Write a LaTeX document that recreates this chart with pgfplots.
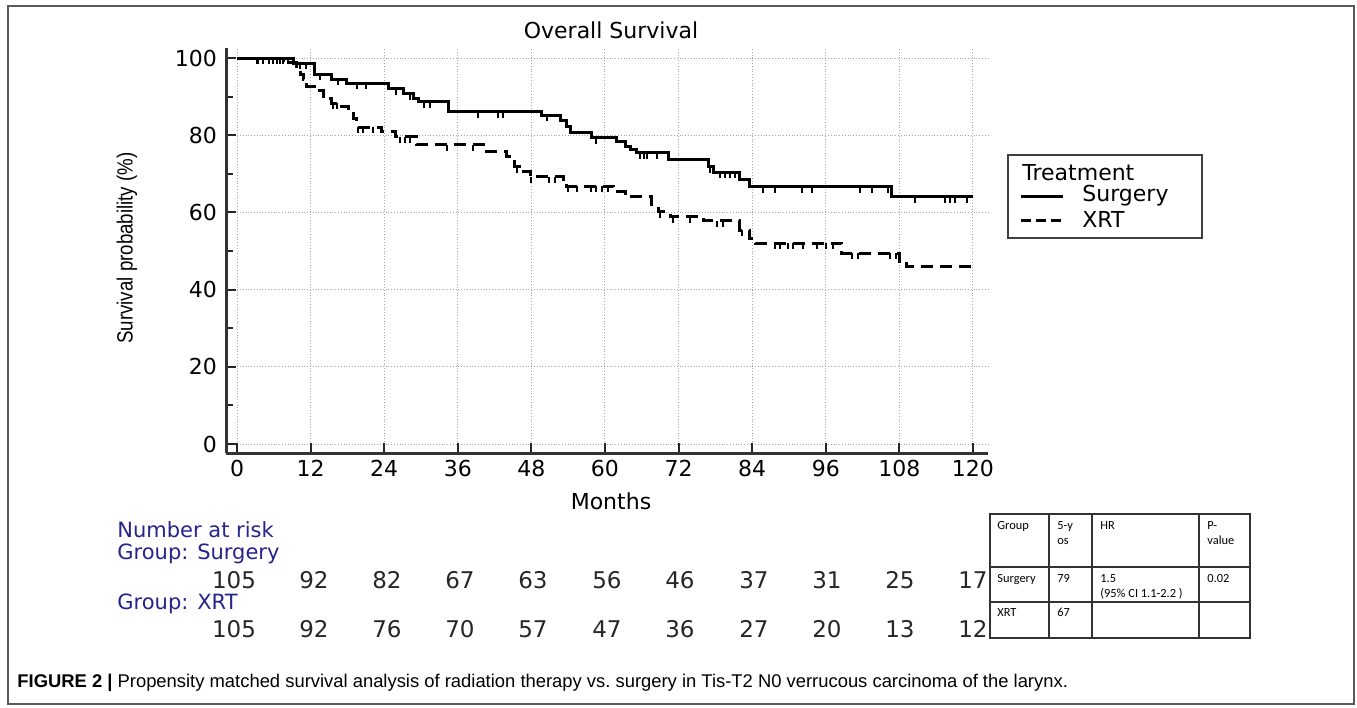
\documentclass[border=0pt]{standalone}
\usepackage{pgfplots}
\usepackage{pgfplotstable}
\pgfplotsset{compat=1.18}
\usepackage{fontspec}
\setmainfont{DejaVu Sans}
\newfontfamily\arialfont{Liberation Sans}
\newfontfamily\calfont{Carlito}
\definecolor{riskblue}{RGB}{38,36,140}

% censor tick hanging below the curve
\pgfdeclareplotmark{cens}{%
  \pgfpathmoveto{\pgfqpoint{0pt}{0pt}}%
  \pgfpathlineto{\pgfqpoint{0pt}{-\pgfplotmarksize}}%
  \pgfusepathqstroke}

\pgfplotstableread{
t s
0 100
9.2 98.6
12.7 95.8
15.4 94.5
17.9 93.4
24.7 92.1
27.1 90.8
28.7 89.5
29.6 88.7
34.5 86.1
49.7 85.2
52.7 83.9
53.8 82.2
54.3 80.7
57.8 79.4
61.9 78.3
63.3 77.0
64.1 76.2
65.2 75.5
70.3 73.6
76.9 71.8
77.7 70.4
82.0 68.4
83.6 66.7
106.7 64.1
120 64.1
}\surg

\pgfplotstableread{
t s
0 100
7.5 98.8
9.7 96.9
10.3 95.6
10.8 94.5
11.4 92.6
12.7 91.5
14.1 89.5
15.4 88.3
17.1 87.4
18.2 86.1
19.0 84.4
19.5 82.0
23.6 80.9
25.8 79.6
29.3 77.5
40.7 75.7
44.0 74.4
45.3 71.8
46.1 70.5
47.8 69.2
53.2 68.0
53.8 66.8
61.4 65.4
63.3 64.1
67.6 61.5
68.7 60.2
70.6 58.9
76.1 57.8
82.0 55.4
83.6 53.3
84.5 52.0
98.6 49.4
108.1 47.2
109.2 45.9
120 45.9
}\xrt

\pgfplotstableread{
t s
3.3 100
4.3 100
5.8 100
6.5 100
7.5 100
8.3 100
10.2 98.6
11.2 98.6
13.5 95.8
16.5 94.5
19.5 93.4
21 93.4
26 92.1
28.2 90.8
30.5 88.7
31.5 88.7
39.3 86.1
42.6 86.1
43.4 86.1
50.5 85.2
58.6 79.4
65.7 75.5
66.3 75.5
66.8 75.5
68.4 75.5
77.1 71.8
78.8 70.4
79.6 70.4
80.4 70.4
81.2 70.4
85.8 66.7
87.7 66.7
92.1 66.7
93.8 66.7
101.6 66.7
103.5 66.7
106.2 66.7
110.6 64.1
115.4 64.1
116.3 64.1
117.1 64.1
119 64.1
}\surgcens

\pgfplotstableread{
t s
3.5 100
5.2 100
7 100
15.7 88.3
16.3 88.3
19.8 82.0
20.5 82.0
22.2 82.0
26.6 79.6
27.4 79.6
28.2 79.6
34.2 77.5
38.5 77.5
45.6 71.8
48.0 69.2
50.8 69.2
51.9 69.2
54.0 66.8
55.4 66.8
57.8 66.8
58.6 66.8
59.5 66.8
60.5 66.8
69.0 60.2
71.1 58.9
73.9 58.9
78.2 57.8
79.3 57.8
82.3 55.4
87.7 52.0
88.5 52.0
89.9 52.0
90.7 52.0
92.3 52.0
94.5 52.0
96.1 52.0
97.2 52.0
100.2 49.4
101.3 49.4
106.5 49.4
107.5 49.4
}\xrtcens

\begin{document}
\begin{tikzpicture}
\begin{scope}[x=0.5pt,y=-0.5pt]
  \path[use as bounding box] (0,0) rectangle (1357,708);
  \draw[black!65, line width=0.8pt] (8,6) rectangle (1354,704);
  % title and axis labels
  \node[font=\fontsize{11pt}{13pt}\selectfont] at (611,30) {Overall Survival};
  \node[font=\fontsize{11pt}{13pt}\selectfont] at (611,501) {Months};
  \node[rotate=90, font=\arialfont\fontsize{11pt}{13pt}\selectfont] at (127,248)
    {\scalebox{0.85}[1]{Survival probability (\%)}};
  % legend
  \draw[black!75, line width=1pt] (1008,155) rectangle (1202,238);
  \node[anchor=west, inner sep=0pt, font=\fontsize{11pt}{13pt}\selectfont] at (1022,173) {Treatment};
  \draw[line width=1.5pt] (1021,196) -- (1063,196);
  \node[anchor=west, inner sep=0pt, font=\fontsize{11pt}{13pt}\selectfont] at (1082,196) {Surgery};
  \draw[line width=1.5pt, dash pattern=on 5pt off 2.5pt] (1021,220) -- (1063,220);
  \node[anchor=west, inner sep=0pt, font=\fontsize{11pt}{13pt}\selectfont] at (1082,219) {XRT};
  % number at risk
  \begin{scope}[every node/.style={anchor=west, inner sep=0pt, font=\fontsize{10.5pt}{12pt}\selectfont, text=riskblue}]
    \node at (117,530) {Number at risk};
    \node at (117,554) {Group: Surgery};
    \node at (117,604) {Group: XRT};
  \end{scope}
  \foreach \xx/\a/\b in {234/105/105, 314/92/92, 387/82/76, 460/67/70, 533/63/57,
      607/56/47, 680/46/36, 754/37/27, 827/31/20, 900/25/13, 973/17/12} {
    \node[inner sep=0pt, font=\fontsize{11.5pt}{13pt}\selectfont, text=black!85] at (\xx,580) {\a};
    \node[inner sep=0pt, font=\fontsize{11.5pt}{13pt}\selectfont, text=black!85] at (\xx,629) {\b};
  }
  % summary table
  \draw[black!80, line width=0.7pt]
    (990,514) rectangle (1250,638)
    (1049,514) -- (1049,638) (1092,514) -- (1092,638) (1199,514) -- (1199,638)
    (990,567) -- (1250,567) (990,602) -- (1250,602);
  \begin{scope}[every node/.style={anchor=north west, inner sep=0pt, font=\calfont\fontsize{6.2pt}{7.6pt}\selectfont, align=left}]
    \node at (997,521) {Group};
    \node at (1057,521) {5-y\\os};
    \node at (1100,521) {HR};
    \node at (1207,521) {P-\\value};
    \node at (997,574) {Surgery};
    \node at (1057,574) {79};
    \node at (1100,574) {1.5\\(95\% CI 1.1-2.2 )};
    \node at (1207,574) {0.02};
    \node at (997,608) {XRT};
    \node at (1057,608) {67};
  \end{scope}
  % caption
  \node[anchor=west, inner sep=0pt, font=\arialfont\fontsize{9.2pt}{11pt}\selectfont] at (17,683)
    {\textbf{FIGURE 2 |} Propensity matched survival analysis of radiation therapy vs.\ surgery in Tis-T2 N0 verrucous carcinoma of the larynx.};
\end{scope}

\begin{axis}[
  at={(113pt,-226.5pt)}, anchor=south west,
  scale only axis, width=381pt, height=202.5pt,
  xmin=-1.794, xmax=122.45, ymin=-2.33, ymax=102.59,
  axis lines=left,
  axis line style={-, line width=1.5pt, black!80},
  xtick={0,12,...,120}, ytick={0,20,...,100},
  minor ytick={10,30,...,90},
  tick align=inside,
  major tick length=5pt, minor tick length=3.5pt,
  tick style={black!85, line width=1pt},
  grid=major,
  major grid style={densely dotted, gray!70, line width=0.5pt},
  ticklabel style={font=\fontsize{11pt}{13pt}\selectfont},
  /pgf/number format/assume math mode=true,
  yticklabel style={xshift=-1pt},
  clip=false,
]
\addplot[const plot, black, line width=1.5pt] table[x=t,y=s] {\surg};
\addplot[const plot, black, line width=1.5pt, dash pattern=on 6pt off 3.5pt] table[x=t,y=s] {\xrt};
\addplot[only marks, mark=cens, mark size=3pt, black, line width=1pt] table[x=t,y=s] {\surgcens};
\addplot[only marks, mark=cens, mark size=3pt, black, line width=1pt] table[x=t,y=s] {\xrtcens};
\end{axis}
\end{tikzpicture}
\end{document}
